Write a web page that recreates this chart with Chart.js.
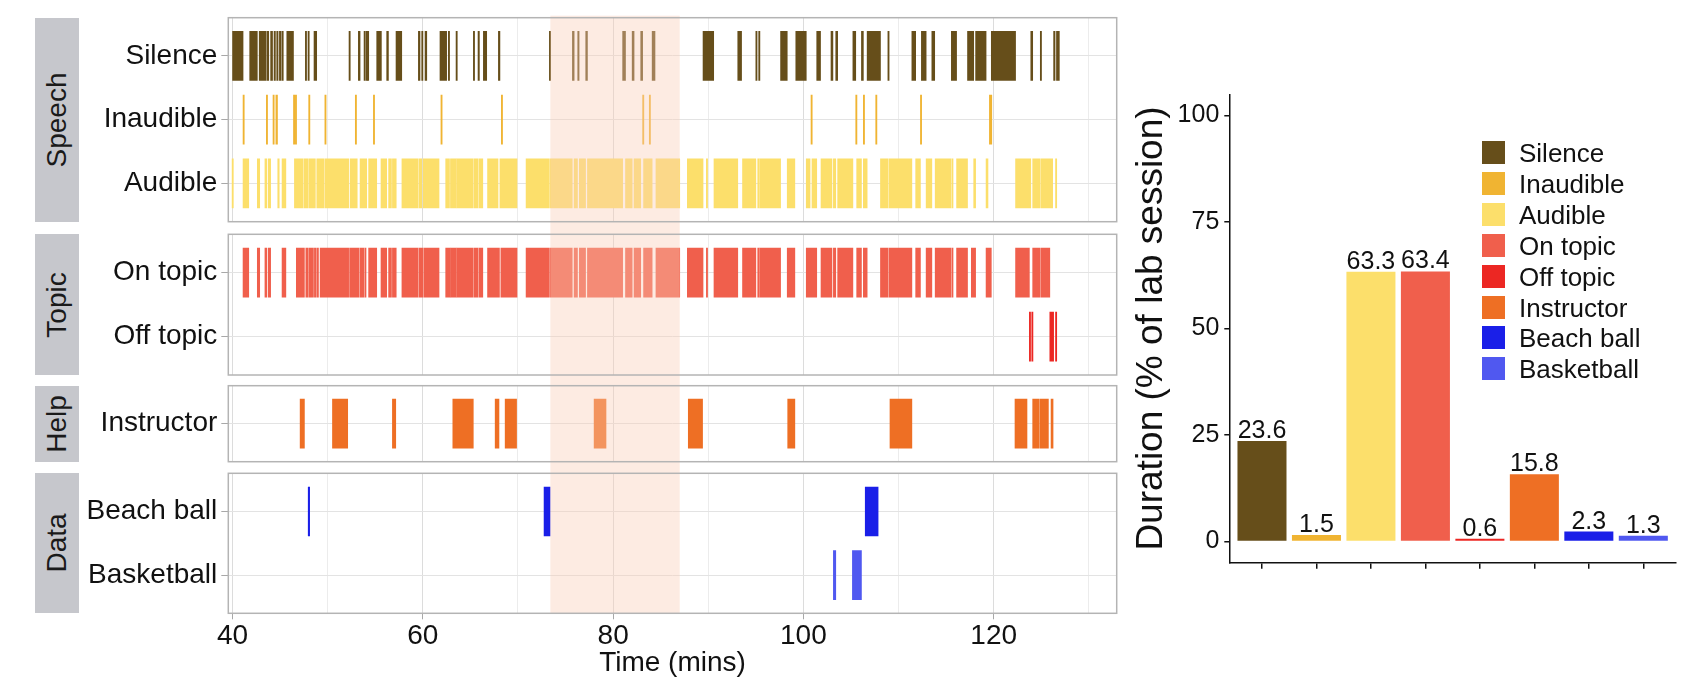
<!DOCTYPE html>
<html><head><meta charset="utf-8">
<script src="https://cdn.jsdelivr.net/npm/chart.js@4.4.1/dist/chart.umd.min.js"></script>
<style>
html,body{margin:0;padding:0;background:#fff;}
#wrap{position:relative;width:1702px;height:694px;overflow:hidden;font-family:"Liberation Sans",Arial,sans-serif;}
#wrap canvas{position:absolute;}
.strip{position:absolute;left:35px;width:44px;background:#c6c7cc;}
.strip span{position:absolute;left:50%;top:50%;transform:translate(-50%,-50%) rotate(-90deg);font-size:28px;color:#1a1a1a;white-space:nowrap;line-height:1;}
.lgk{position:absolute;width:23px;height:23px;}
.lgt{position:absolute;font-size:26px;line-height:23px;color:#111;white-space:nowrap;}
</style>
</head><body>
<div id="wrap">
<canvas id="cSpeech"></canvas>
<canvas id="cTopic"></canvas>
<canvas id="cHelp"></canvas>
<canvas id="cData"></canvas>
<canvas id="cSummary"></canvas>
</div>
<script>
// ---------------- DATA ----------------
const timeLimits = [39.55, 132.93];
const highlight = [73.4, 87.0];

const speechCats = ['Silence', 'Inaudible', 'Audible'];
const topicCats = ['On topic', 'Off topic'];
const helpCats = ['Instructor'];
const dataCats = ['Beach ball', 'Basketball'];
const stripLabels = ['Speech', 'Topic', 'Help', 'Data'];

const silence = [[40.0,41.1],[41.8,42.6],[42.8,43.5],[43.6,43.8],[44.0,44.2],[44.36,44.5],[44.64,44.78],[44.92,45.1],[45.2,45.3],[45.7,46.4],[47.65,47.72],[47.93,48.0],[48.56,48.84],[52.24,52.31],[53.22,53.4],[53.82,53.89],[54.03,54.1],[54.17,54.31],[55.15,55.64],[56.2,56.38],[57.18,57.78],[59.53,59.7],[59.88,59.99],[60.23,60.41],[61.8,62.5],[62.68,62.79],[63.49,63.6],[65.31,65.38],[65.8,65.94],[66.36,66.71],[67.94,68.1],[73.3,73.4],[75.72,75.9],[76.28,76.42],[77.12,77.3],[81.0,81.3],[82.0,82.2],[82.9,83.1],[84.1,84.4],[89.45,90.57],[93.1,93.5],[95.0,95.1],[95.3,95.4],[97.6,98.3],[99.2,100.3],[101.4,101.8],[102.9,103.1],[103.4,103.6],[105.2,105.5],[106.1,106.3],[106.7,108.1],[108.88,108.95],[111.4,111.8],[112.4,112.9],[113.5,113.8],[115.55,116.1],[117.25,117.9],[118.1,119.2],[119.75,122.3],[123.9,124.1],[124.9,125.0],[126.3,126.45],[126.6,126.9]];
const inaudible = [[41.1,41.15],[43.55,43.6],[44.25,44.3],[44.55,44.72],[46.4,46.45],[46.6,46.65],[48.0,48.05],[49.7,49.75],[52.9,52.95],[54.8,54.9],[61.9,61.95],[68.25,68.3],[83.1,83.15],[83.8,83.85],[100.8,100.9],[105.5,105.55],[106.3,106.35],[107.6,107.65],[112.3,112.35],[119.55,119.8]];
const audible = [[39.95,40.02],[41.1,41.7],[42.6,42.85],[43.4,43.6],[43.75,44.0],[44.75,44.9],[45.2,45.6],[46.5,47.4],[47.5,47.9],[48.0,48.7],[48.85,49.6],[49.7,52.2],[52.35,53.1],[53.4,54.1],[54.3,55.15],[55.6,56.2],[56.4,56.7],[56.8,57.2],[57.8,59.5],[59.6,59.9],[60.05,61.7],[62.4,62.8],[62.9,63.5],[63.55,65.3],[65.4,65.8],[65.9,66.3],[66.8,67.9],[68.1,69.9],[70.85,73.3],[73.4,75.7],[75.9,76.25],[76.45,77.1],[77.3,81.0],[81.3,82.0],[82.2,82.9],[83.2,83.85],[83.9,84.1],[84.5,87.0],[87.8,89.45],[89.8,89.85],[90.6,93.1],[93.6,95.0],[95.2,95.3],[95.4,97.6],[98.3,99.1],[100.3,100.7],[100.9,101.4],[101.85,103.0],[103.15,103.4],[103.6,105.2],[105.6,106.1],[106.3,106.7],[108.1,108.9],[109.0,111.4],[111.8,112.3],[112.9,113.5],[113.85,115.5],[115.6,115.65],[116.1,117.25],[117.9,118.1],[119.2,119.4],[122.3,123.9],[124.1,124.9],[125.0,126.2],[126.5,126.6]];
const onTopic = [[41.1,41.7],[42.6,42.85],[43.4,43.6],[43.75,44.0],[45.2,45.6],[46.7,47.55],[47.7,47.9],[48.0,48.5],[48.6,48.8],[48.9,49.0],[49.2,52.2],[52.3,53.3],[53.4,53.8],[53.9,54.0],[54.3,55.15],[55.6,56.2],[56.4,56.7],[56.8,57.2],[57.8,59.5],[59.6,60.0],[60.1,61.7],[62.4,62.85],[62.9,63.5],[63.55,65.3],[65.4,65.8],[65.9,66.3],[66.8,68.05],[68.2,69.9],[70.85,73.3],[73.4,75.7],[75.9,76.25],[76.45,77.1],[77.3,81.0],[81.3,82.0],[82.2,82.9],[83.2,84.1],[84.5,87.0],[87.8,89.45],[89.8,89.85],[90.6,93.1],[93.6,95.0],[95.2,95.3],[95.4,97.6],[98.3,99.1],[100.3,101.4],[101.85,103.0],[103.15,103.4],[103.6,105.2],[105.6,106.1],[106.3,106.7],[108.1,108.9],[109.0,111.4],[111.8,112.3],[112.9,113.5],[113.85,115.5],[115.6,115.65],[116.1,117.25],[117.65,118.1],[119.2,119.75],[122.3,123.75],[124.1,124.9],[125.0,125.9]];
const offTopic = [[123.75,123.8],[124.0,124.08],[125.9,126.3],[126.5,126.6]];
const instructor = [[47.1,47.55],[50.5,52.1],[56.8,57.15],[63.15,65.3],[67.6,68.0],[68.65,69.85],[78.0,79.25],[87.9,89.4],[98.35,99.1],[109.1,111.4],[122.24,123.5],[124.1,124.8],[124.9,125.75],[126.03,126.24]];
const beachBall = [[47.95,48.1],[72.74,73.37],[106.5,107.85]];
const basketball = [[103.15,103.4],[105.15,106.1]];

const summaryCats = ['Silence','Inaudible','Audible','On topic','Off topic','Instructor','Beach ball','Basketball'];
const summaryValues = [23.6, 1.5, 63.3, 63.4, 0.6, 15.8, 2.3, 1.3];

// ---------------- STYLE ----------------
const palette = {
  'Silence':'#664e1a','Inaudible':'#f0b432','Audible':'#fcdf6b','On topic':'#f05f4c',
  'Off topic':'#ec2723','Instructor':'#ee6f24','Beach ball':'#1a1fe8','Basketball':'#5058f0'
};
Chart.defaults.font.family = '"Liberation Sans", Arial, sans-serif';
Chart.defaults.color = '#111';

const LEFT = 80, CW = 1040, YW = 148.3, PADR = 3.3, XH = 80.7;
const panels = [
  {id:'cSpeech', cats:speechCats, series:[silence,inaudible,audible], top:12, h:216, padT:5.7, padB:6.3, first:true},
  {id:'cTopic', cats:topicCats, series:[onTopic,offTopic], top:228, h:152, padT:6.3, padB:5},
  {id:'cHelp', cats:helpCats, series:[instructor], top:380, h:87, padT:5.7, padB:5.3},
  {id:'cData', cats:dataCats, series:[beachBall,basketball], top:467, h:227, padT:6.3, padB:0, last:true}
];

const deco = {
  id:'deco',
  afterDatasetsDraw(chart, args, o) {
    const {ctx, chartArea:a, scales:{x}} = chart;
    const x0 = x.getPixelForValue(highlight[0]), x1 = x.getPixelForValue(highlight[1]);
    const t = o.first ? a.top - 2 : 0;
    const b = o.last ? a.bottom : chart.height;
    ctx.save();
    ctx.fillStyle = 'rgba(250,205,182,0.4)';
    ctx.fillRect(x0, t, x1 - x0, b - t);
    ctx.strokeStyle = '#b4b4b4';
    ctx.lineWidth = 1.5;
    ctx.strokeRect(a.left, a.top, a.right - a.left, a.bottom - a.top);
    ctx.restore();
  }
};

const wrap = document.getElementById('wrap');
panels.forEach((p, pi) => {
  const cv = document.getElementById(p.id);
  cv.width = CW; cv.height = p.h;
  cv.style.left = LEFT + 'px'; cv.style.top = p.top + 'px';
  cv.style.width = CW + 'px'; cv.style.height = p.h + 'px';
  const showX = !!p.last;
  const datasets = p.series.map((iv, k) => ({
    label: p.cats[k],
    data: iv.map(([s, e]) => ({x: [s, e], y: k})),
    backgroundColor: palette[p.cats[k]],
    grouped: false,
    barThickness: 49,
    minBarLength: 1.2,
    borderWidth: 0,
    borderSkipped: false
  }));
  const chart = new Chart(cv, {
    type: 'bar',
    data: {datasets},
    options: {
      indexAxis: 'y',
      responsive: false,
      animation: false,
      layout: {padding: {left: 0, right: PADR, top: p.padT, bottom: p.padB}},
      plugins: {legend: {display: false}, tooltip: {enabled: false}, deco: {first: !!p.first, last: !!p.last}},
      scales: {
        x: {
          type: 'linear', position: 'bottom', min: timeLimits[0], max: timeLimits[1], offset: false,
          ticks: {display: showX, stepSize: 10, includeBounds: false, autoSkip: false, maxRotation: 0,
                  callback: v => (v % 20 === 0 ? String(v) : ''), font: {size: 28}, color: '#111', padding: 0},
          grid: {offset: false, lineWidth: 1, drawTicks: showX, tickLength: 6,
                 color: c => (c.tick && c.tick.value % 20 === 0 ? '#dcdcdc' : '#ececec'),
                 tickColor: c => (c.tick && c.tick.value % 20 === 0 ? '#a8a8a8' : 'rgba(0,0,0,0)')},
          border: {display: false},
          title: {display: showX, text: 'Time (mins)', font: {size: 28}, color: '#111', padding: {top: 0, bottom: 14}},
          afterFit: s => { s.height = showX ? XH : 0; s.paddingLeft = 0; s.paddingRight = 0; }
        },
        y: {
          type: 'linear', reverse: true, min: -0.6, max: p.cats.length - 0.4, offset: false,
          ticks: {stepSize: 1, includeBounds: false, autoSkip: false,
                  callback: v => (p.cats[v] !== undefined ? p.cats[v] : ''), font: {size: 28}, color: '#111', padding: 4},
          grid: {offset: false, color: '#e3e3e3', lineWidth: 1, tickLength: 7, tickColor: '#a8a8a8'},
          border: {display: false},
          afterFit: s => { s.width = YW; s.paddingTop = 0; s.paddingBottom = 0; }
        }
      }
    },
    plugins: [deco]
  });
  const a = chart.chartArea;
  const st = document.createElement('div');
  st.className = 'strip';
  st.style.top = (p.top + a.top) + 'px';
  st.style.height = (a.bottom - a.top) + 'px';
  const sp = document.createElement('span');
  sp.textContent = stripLabels[pi];
  st.appendChild(sp);
  wrap.appendChild(st);
});

// ---------------- SUMMARY BAR CHART ----------------
const valueLabels = {
  id: 'valueLabels',
  afterDatasetsDraw(chart) {
    const {ctx} = chart;
    const meta = chart.getDatasetMeta(0);
    ctx.save();
    ctx.font = '25px "Liberation Sans", Arial, sans-serif';
    ctx.fillStyle = '#111';
    ctx.textAlign = 'center';
    ctx.textBaseline = 'alphabetic';
    meta.data.forEach((bar, i) => ctx.fillText(summaryValues[i].toFixed(1), bar.x, bar.y - 3));
    ctx.restore();
  }
};
const SL = 1120, SW = 582, SH = 694;
const cs = document.getElementById('cSummary');
cs.width = SW; cs.height = SH;
cs.style.left = SL + 'px'; cs.style.top = '0px';
cs.style.width = SW + 'px'; cs.style.height = SH + 'px';
const summaryChart = new Chart(cs, {
  type: 'bar',
  data: {datasets: [{
    data: summaryValues.map((v, i) => ({x: i + 1, y: v})),
    backgroundColor: summaryCats.map(c => palette[c]),
    barPercentage: 0.9, categoryPercentage: 1, borderWidth: 0
  }]},
  options: {
    responsive: false, animation: false,
    layout: {padding: {top: 94.3, right: 26, left: 0, bottom: 0}},
    plugins: {legend: {display: false}, tooltip: {enabled: false}},
    scales: {
      x: {type: 'linear', min: 0.4, max: 8.6, offset: false,
          ticks: {display: false, stepSize: 1, includeBounds: false},
          grid: {offset: false, drawOnChartArea: false, drawTicks: true, tickLength: 6, tickColor: '#111', lineWidth: 1.5},
          border: {display: true, color: '#111', width: 1.5},
          afterFit: s => { s.height = SH - 562.7; s.paddingLeft = 0; s.paddingRight = 0; }},
      y: {type: 'linear', min: -5, max: 105,
          ticks: {stepSize: 25, includeBounds: false, font: {size: 25}, color: '#111', padding: 5},
          grid: {drawOnChartArea: false, tickLength: 5, tickColor: '#111', lineWidth: 1.5},
          border: {display: true, color: '#111', width: 1.5},
          title: {display: true, text: 'Duration (% of lab session)', font: {size: 37, lineHeight: 1}, color: '#111', padding: {top: 13, bottom: 0}},
          afterFit: s => { s.width = 109.3; s.paddingTop = 0; s.paddingBottom = 0; }}
    }
  },
  plugins: [valueLabels]
});

// legend (HTML, built from categories)
summaryCats.forEach((c, i) => {
  const top = 141 + i * 30.9;
  const k = document.createElement('div');
  k.className = 'lgk';
  k.style.left = '1482px'; k.style.top = top + 'px';
  k.style.background = palette[c];
  wrap.appendChild(k);
  const t = document.createElement('div');
  t.className = 'lgt';
  t.style.left = '1519px'; t.style.top = (top + 1) + 'px';
  t.textContent = c;
  wrap.appendChild(t);
});
</script>
</body></html>
